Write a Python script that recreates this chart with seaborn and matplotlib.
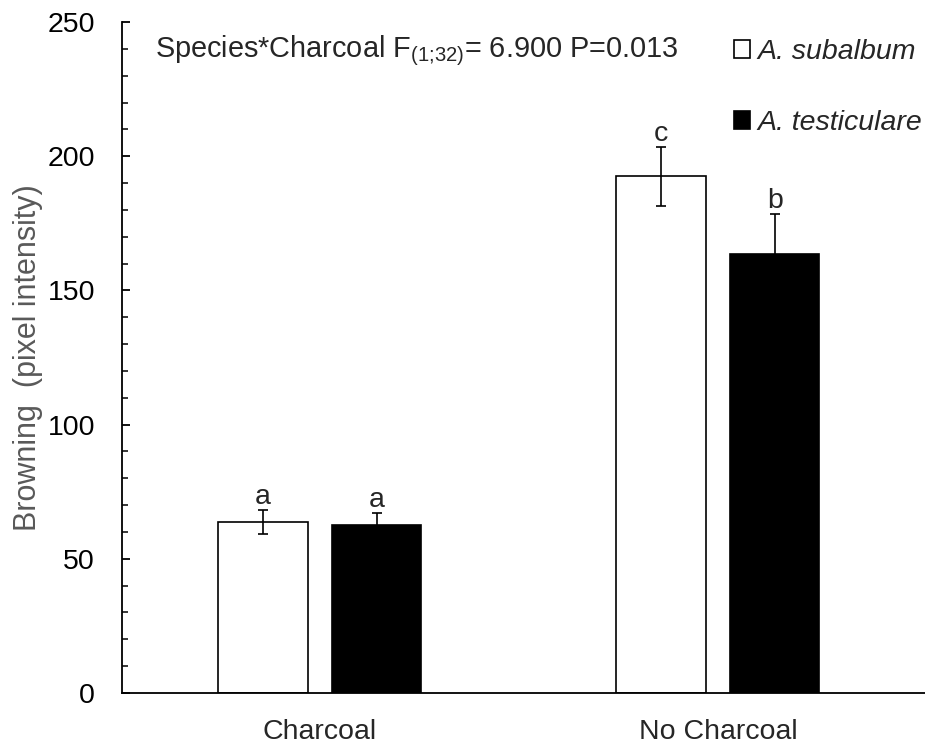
import matplotlib
matplotlib.use("Agg")
import matplotlib.pyplot as plt
import seaborn as sns
import pandas as pd
import numpy as np

# ---- data ----
treatments = ["Charcoal", "No Charcoal"]
species = ["A. subalbum", "A. testiculare"]
subalbum_mean = [63.6, 192.6]
testiculare_mean = [62.5, 163.4]
subalbum_err = [4.5, 11.0]
testiculare_err = [4.4, 15.0]
subalbum_letters = ["a", "c"]
testiculare_letters = ["a", "b"]
annotation = r"Species*Charcoal F$_{\text{(1;32)}}$= 6.900 P=0.013"
ylabel = "Browning  (pixel intensity)"

df = pd.DataFrame({
    "treatment": treatments * 2,
    "species": [species[0]] * 2 + [species[1]] * 2,
    "browning": subalbum_mean + testiculare_mean,
})
errs = {species[0]: subalbum_err, species[1]: testiculare_err}
means = {species[0]: subalbum_mean, species[1]: testiculare_mean}
letters = {species[0]: subalbum_letters, species[1]: testiculare_letters}

FS = 20.5

sns.set_style("ticks")
plt.rcParams["font.family"] = ["Liberation Sans", "DejaVu Sans"]
plt.rcParams["mathtext.fontset"] = "custom"
plt.rcParams["mathtext.rm"] = "Liberation Sans"
plt.rcParams["mathtext.it"] = "Liberation Sans:italic"

fig = plt.figure(figsize=(9.25, 7.45), dpi=100)
ax = fig.add_axes([122 / 925, 1 - 693 / 745, 1 - 122 / 925, (693 - 22) / 745])

sns.barplot(data=df, x="treatment", y="browning", hue="species",
            order=treatments, hue_order=species,
            palette={species[0]: "white", species[1]: "black"},
            edgecolor="black", linewidth=1.2, width=0.572, gap=0.217,
            errorbar=None, ax=ax, legend=True, zorder=2)

for i, sp in enumerate(species):
    cont = ax.containers[i]
    for j, bar in enumerate(cont.patches):
        x = bar.get_x() + bar.get_width() / 2
        m = means[sp][j]
        e = errs[sp][j]
        ax.errorbar(x, m, yerr=e, fmt="none", ecolor="black",
                    elinewidth=1.2, capsize=3.6, capthick=1.2, zorder=3)
        ax.annotate(letters[sp][j], (x, m + e), xytext=(0, 0),
                    textcoords="offset points", ha="center", va="bottom",
                    fontsize=FS)

ax.set_ylim(0, 250)
ax.set_xlim(-0.497, 1.52)
ax.set_yticks(np.arange(0, 251, 50))
ax.set_yticks(np.arange(0, 251, 10), minor=True)
ax.tick_params(axis="y", which="major", direction="in", length=5.5, width=1.3,
               labelsize=FS, pad=19.5, colors="black")
ax.tick_params(axis="y", which="minor", direction="in", length=4.5, width=1.3)
ax.tick_params(axis="x", length=0, labelsize=FS, pad=19)
ax.set_xlabel("")
ax.set_ylabel(ylabel, fontsize=22, color="#595959")
ax.yaxis.set_label_coords((43 - 122) / 803, 0.5)
for s in ["top", "right"]:
    ax.spines[s].set_visible(False)
for s in ["left", "bottom"]:
    ax.spines[s].set_linewidth(1.3)
    ax.spines[s].set_color("black")

handles, labels = ax.get_legend_handles_labels()
ax.get_legend().remove()
fig.legend(handles, labels, loc="upper left",
           bbox_to_anchor=(734 / 925, 1 - 39 / 745),
           frameon=False, prop={"style": "italic", "size": FS},
           handlelength=0.57, handleheight=0.57, handletextpad=0.25,
           labelspacing=1.58, borderpad=0, borderaxespad=0)

fig.text(155 / 925, 1 - 57 / 745, annotation, fontsize=20.8, va="baseline", ha="left")

fig.savefig("out.png", dpi=100)
